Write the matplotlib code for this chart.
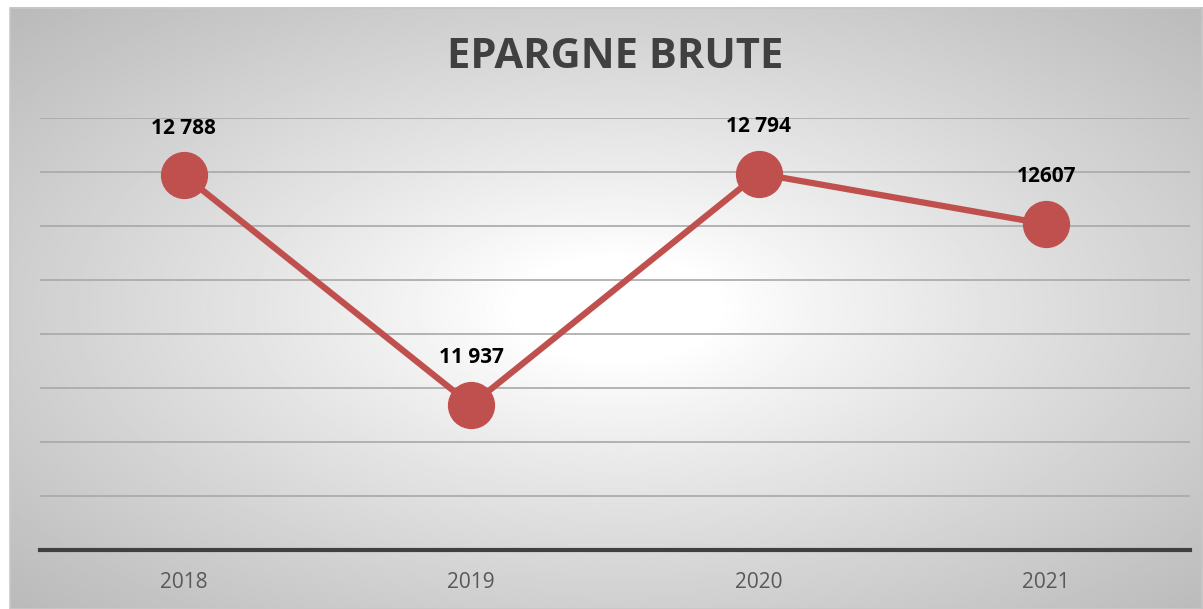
import numpy as np
import matplotlib.pyplot as plt
from matplotlib.patches import Rectangle

years = ["2018", "2019", "2020", "2021"]
values = [12788, 11937, 12794, 12607]
labels = ["12 788", "11 937", "12 794", "12607"]

W, H = 1203, 609
fig = plt.figure(figsize=(W / 100, H / 100), dpi=100)
fig.patch.set_facecolor("white")

# radial gradient background (white centre, grey corners)
bg = fig.add_axes([10 / W, 0, (W - 10) / W, (H - 7) / H])
bg.set_axis_off()
yy, xx = np.mgrid[0:300, 0:600]
cx, cy = 305, 150
r = np.sqrt(((xx - cx) / 300) ** 2 + ((yy - cy) / 150) ** 2) / np.sqrt(2)
shade = 1.0 - 0.27 * np.clip((r - 0.12) / 0.88, 0, 1) ** 0.9
bg.imshow(shade, cmap="gray", vmin=0, vmax=1, aspect="auto", interpolation="bilinear")
fig.patches.append(Rectangle((10 / W, 0), (W - 11) / W, (H - 7.5) / H, transform=fig.transFigure,
                             fill=False, edgecolor="#c8c8c8", lw=1.2))

ax = fig.add_axes([40 / W, (H - 550) / H, 1150 / W, 432 / H])
ax.patch.set_alpha(0)
x = np.arange(len(years))
ax.set_xlim(-0.5, len(years) - 0.5)
ax.set_ylim(11400, 13000)
ax.set_yticks(np.arange(11600, 13001, 200))
ax.yaxis.grid(True, color="#a8a8a8", lw=1.2)
ax.set_axisbelow(True)
ax.tick_params(axis="y", left=False, labelleft=False)
ax.tick_params(axis="x", length=0, pad=16, labelsize=15, labelcolor="#595959")
ax.set_xticks(x)
ax.set_xticklabels(years, fontfamily="Open Sans")
for s in ["left", "right", "top"]:
    ax.spines[s].set_visible(False)
ax.spines["bottom"].set_color("#404040")
ax.spines["bottom"].set_linewidth(3)

ax.plot(x, values, color="#C0504D", lw=4.5, marker="o", ms=33, zorder=3, clip_on=False)
for xi, v, lab in zip(x, values, labels):
    ax.annotate(lab, (xi, v), xytext=(0, 34), textcoords="offset points", ha="center", va="center",
                fontsize=15, fontweight="bold", color="black", fontfamily="Open Sans")

fig.text(615 / W, 1 - 58 / H, "EPARGNE BRUTE", ha="center", va="center", fontsize=30,
         fontweight="bold", color="#404040", fontfamily="Open Sans")

fig.savefig("out.png", dpi=100)
